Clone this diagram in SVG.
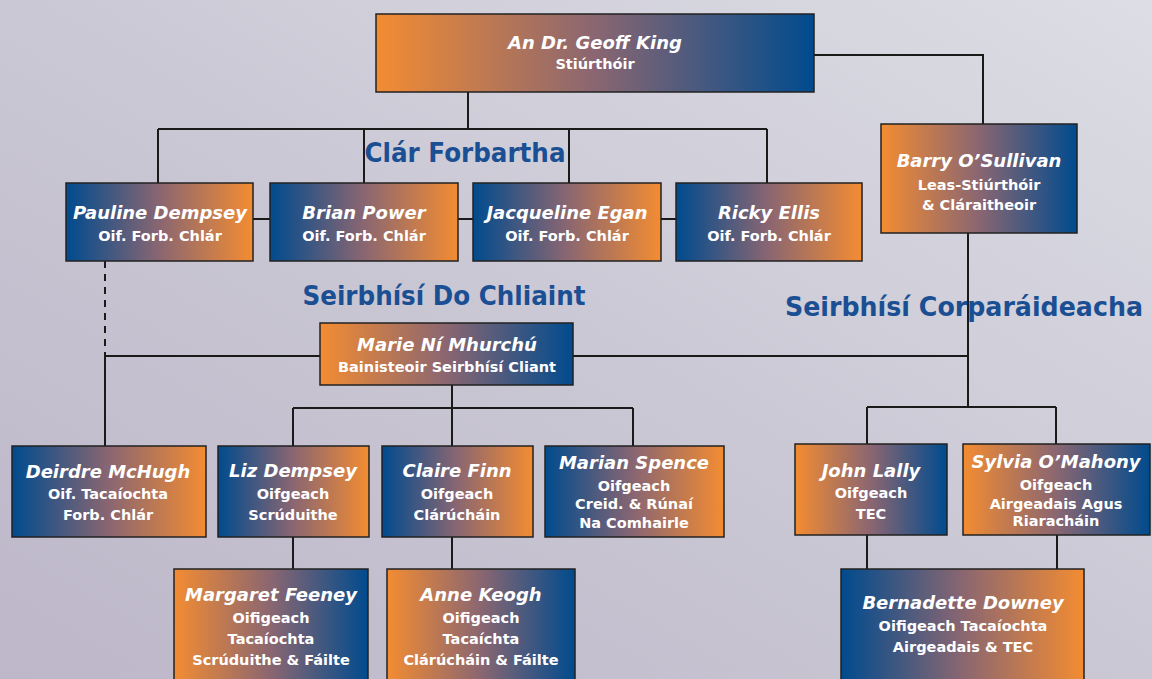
<svg xmlns="http://www.w3.org/2000/svg" width="1152" height="679" viewBox="0 0 1152 679">
<defs>
<linearGradient id="bg" x1="0" y1="1" x2="1" y2="0">
<stop offset="0" stop-color="#bdb7c9"/>
<stop offset="0.45" stop-color="#c9c6d3"/>
<stop offset="1" stop-color="#dcdde5"/>
</linearGradient>
<linearGradient id="ob" x1="0" y1="0" x2="1" y2="0">
<stop offset="0" stop-color="#f38c32"/>
<stop offset="0.5" stop-color="#8a6671"/>
<stop offset="1" stop-color="#004b8e"/>
</linearGradient>
<linearGradient id="bo" x1="0" y1="0" x2="1" y2="0">
<stop offset="0" stop-color="#004b8e"/>
<stop offset="0.5" stop-color="#8a6671"/>
<stop offset="1" stop-color="#f38c32"/>
</linearGradient>
</defs>
<style>
.box{stroke:#222;stroke-width:1.5}
.ob{fill:url(#ob)}
.bo{fill:url(#bo)}
.nm{font-family:"DejaVu Sans","Liberation Sans",sans-serif;font-style:italic;font-weight:bold;font-size:18px;fill:#fff;text-anchor:middle}
.sb{font-family:"DejaVu Sans","Liberation Sans",sans-serif;font-weight:bold;font-size:14.5px;fill:#fff;text-anchor:middle}
.hd{font-family:"DejaVu Sans","Liberation Sans",sans-serif;font-weight:bold;font-size:26px;fill:#1b4f93}
.ln{stroke:#1a1a1a;stroke-width:2;fill:none}
.dash{stroke:#1a1a1a;stroke-width:2;fill:none;stroke-dasharray:7,6}
</style>
<rect x="0" y="0" width="1152" height="679" fill="url(#bg)"/>

<g id="connectors">
<path class="ln" d="M468,92 V129 M158,129 H767 M158,129 V183 M364,129 V183 M569,129 V183 M767,129 V183"/>
<path class="ln" d="M253,219 H270 M458,219 H473 M661,219 H676"/>
<path class="ln" d="M814,55 H983 V124"/>
<path class="ln" d="M968,233 V407 M573,356 H968 M105,356 H320 M105,356 V446"/>
<path class="dash" d="M105,261 V356"/>
<path class="ln" d="M867,407 H1056 M867,407 V444 M1056,407 V444 M867,535 V569 M1057,535 V569"/>
<path class="ln" d="M452,385 V408 M293,408 H633 M293,408 V446 M452,408 V446 M633,408 V446"/>
<path class="ln" d="M293,537 V569 M452,537 V569"/>
</g>

<text class="hd" x="465" y="162" text-anchor="middle" textLength="201" lengthAdjust="spacingAndGlyphs">Clár Forbartha</text>
<text class="hd" x="444" y="305" text-anchor="middle" textLength="283" lengthAdjust="spacingAndGlyphs">Seirbhísí  Do Chliaint</text>
<text class="hd" x="964" y="316" text-anchor="middle" textLength="358" lengthAdjust="spacingAndGlyphs">Seirbhísí Corparáideacha</text>

<g id="n-king">
<rect class="box ob" x="376" y="14" width="438" height="78"/>
<text class="nm" x="595" y="49">An Dr. Geoff King</text>
<text class="sb" x="595" y="69">Stiúrthóir</text>
</g>

<g id="n-pauline">
<rect class="box bo" x="66" y="183" width="187" height="78"/>
<text class="nm" x="160" y="219">Pauline Dempsey</text>
<text class="sb" x="160" y="241">Oif. Forb. Chlár</text>
</g>
<g id="n-brian">
<rect class="box bo" x="270" y="183" width="188" height="78"/>
<text class="nm" x="364" y="219">Brian Power</text>
<text class="sb" x="364" y="241">Oif. Forb. Chlár</text>
</g>
<g id="n-jacqueline">
<rect class="box bo" x="473" y="183" width="188" height="78"/>
<text class="nm" x="567" y="219">Jacqueline Egan</text>
<text class="sb" x="567" y="241">Oif. Forb. Chlár</text>
</g>
<g id="n-ricky">
<rect class="box bo" x="676" y="183" width="186" height="78"/>
<text class="nm" x="769" y="219">Ricky Ellis</text>
<text class="sb" x="769" y="241">Oif. Forb. Chlár</text>
</g>

<g id="n-barry">
<rect class="box ob" x="881" y="124" width="196" height="109"/>
<text class="nm" x="979" y="167">Barry O’Sullivan</text>
<text class="sb" x="979" y="190">Leas-Stiúrthóir</text>
<text class="sb" x="979" y="210">&amp; Cláraitheoir</text>
</g>

<g id="n-marie">
<rect class="box ob" x="320" y="323" width="253" height="62"/>
<text class="nm" x="447" y="351">Marie Ní Mhurchú</text>
<text class="sb" x="447" y="372">Bainisteoir Seirbhísí Cliant</text>
</g>

<g id="n-deirdre">
<rect class="box bo" x="12" y="446" width="194" height="91"/>
<text class="nm" x="108" y="478">Deirdre McHugh</text>
<text class="sb" x="108" y="499">Oif. Tacaíochta</text>
<text class="sb" x="108" y="520">Forb. Chlár</text>
</g>
<g id="n-liz">
<rect class="box bo" x="218" y="446" width="151" height="91"/>
<text class="nm" x="293" y="477">Liz Dempsey</text>
<text class="sb" x="293" y="499">Oifgeach</text>
<text class="sb" x="293" y="520">Scrúduithe</text>
</g>
<g id="n-claire">
<rect class="box bo" x="382" y="446" width="151" height="91"/>
<text class="nm" x="457" y="477">Claire Finn</text>
<text class="sb" x="457" y="499">Oifgeach</text>
<text class="sb" x="457" y="520">Clárúcháin</text>
</g>
<g id="n-marian">
<rect class="box bo" x="545" y="446" width="179" height="91"/>
<text class="nm" x="634" y="469">Marian Spence</text>
<text class="sb" x="634" y="491">Oifgeach</text>
<text class="sb" x="634" y="509">Creid. &amp; Rúnaí</text>
<text class="sb" x="634" y="528">Na Comhairle</text>
</g>

<g id="n-john">
<rect class="box ob" x="795" y="444" width="152" height="91"/>
<text class="nm" x="871" y="477">John Lally</text>
<text class="sb" x="871" y="498">Oifgeach</text>
<text class="sb" x="871" y="519">TEC</text>
</g>
<g id="n-sylvia">
<rect class="box ob" x="963" y="444" width="187" height="91"/>
<text class="nm" x="1056" y="468">Sylvia O’Mahony</text>
<text class="sb" x="1056" y="490">Oifgeach</text>
<text class="sb" x="1056" y="509">Airgeadais Agus</text>
<text class="sb" x="1056" y="526">Riaracháin</text>
</g>

<g id="n-margaret">
<rect class="box ob" x="174" y="569" width="194" height="120"/>
<text class="nm" x="271" y="601">Margaret Feeney</text>
<text class="sb" x="271" y="623">Oifigeach</text>
<text class="sb" x="271" y="644">Tacaíochta</text>
<text class="sb" x="271" y="665">Scrúduithe &amp; Fáilte</text>
</g>
<g id="n-anne">
<rect class="box ob" x="387" y="569" width="188" height="120"/>
<text class="nm" x="481" y="601">Anne Keogh</text>
<text class="sb" x="481" y="623">Oifigeach</text>
<text class="sb" x="481" y="644">Tacaíchta</text>
<text class="sb" x="481" y="665">Clárúcháin &amp; Fáilte</text>
</g>
<g id="n-bernadette">
<rect class="box bo" x="841" y="569" width="243" height="120"/>
<text class="nm" x="963" y="609">Bernadette Downey</text>
<text class="sb" x="963" y="631">Oifigeach Tacaíochta</text>
<text class="sb" x="963" y="652">Airgeadais &amp; TEC</text>
</g>
</svg>
